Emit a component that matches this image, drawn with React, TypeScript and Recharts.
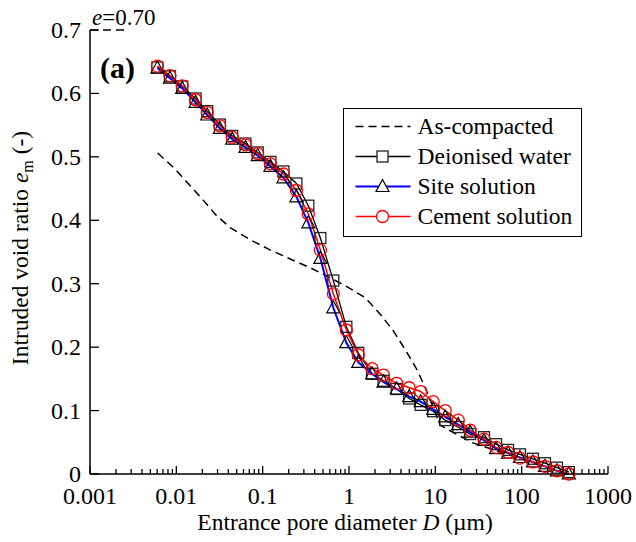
import { LineChart, Line, XAxis, YAxis, Legend } from 'recharts';

// entrance pore diameter D (µm) for the MIP series
const D_VALUES = [
  0.00603, 0.00843, 0.0117, 0.0167, 0.0228, 0.0319, 0.0444, 0.0632, 0.0877, 0.123,
  0.174, 0.246, 0.338, 0.466, 0.658, 0.931, 1.28, 1.85, 2.51, 3.57,
  4.98, 6.76, 9.43, 13.0, 18.4, 25.3, 36.6, 50.5, 69.5, 95.5,
  135, 186, 256, 352,
];

const DEIONISED = [
  0.641, 0.627, 0.611, 0.592, 0.572, 0.551, 0.533, 0.521, 0.507, 0.492,
  0.477, 0.458, 0.423, 0.372, 0.305, 0.232, 0.191, 0.158, 0.147, 0.134,
  0.119, 0.109, 0.099, 0.085, 0.074, 0.063, 0.058, 0.047, 0.038, 0.031,
  0.024, 0.017, 0.010, 0.003,
];

const SITE = [
  0.640, 0.624, 0.608, 0.586, 0.566, 0.545, 0.528, 0.515, 0.502, 0.485,
  0.467, 0.437, 0.396, 0.340, 0.262, 0.207, 0.176, 0.158, 0.145, 0.134,
  0.122, 0.114, 0.102, 0.090, 0.078, 0.066, 0.053, 0.040, 0.033, 0.026,
  0.019, 0.012, 0.005, 0.0,
];

const CEMENT = [
  0.643, 0.628, 0.612, 0.590, 0.570, 0.549, 0.531, 0.519, 0.505, 0.489,
  0.473, 0.447, 0.410, 0.353, 0.284, 0.227, 0.188, 0.166, 0.156, 0.143,
  0.136, 0.130, 0.114, 0.100, 0.085, 0.069, 0.055, 0.042, 0.034, 0.025,
  0.019, 0.012, 0.005, 0.0,
];

// as-compacted curve (dashed, no markers)
const AS_D = [
  0.00608, 0.00931, 0.0146, 0.0207, 0.0284, 0.0425, 0.0722, 0.123, 0.209, 0.357,
  0.577, 0.955, 1.54, 2.30, 3.25, 4.48, 6.16, 7.62, 9.18, 11.4,
  17.9, 27.4, 56.1, 125, 343,
];
const AS_E = [
  0.506, 0.483, 0.454, 0.431, 0.409, 0.388, 0.369, 0.353, 0.339, 0.325,
  0.311, 0.295, 0.278, 0.252, 0.226, 0.196, 0.164, 0.136, 0.109, 0.077,
  0.062, 0.049, 0.035, 0.019, 0.0,
];

// initial void ratio marker e = 0.70
const INIT_D = [0.001, 0.0028];
const INIT_E = [0.7, 0.7];

const X_MAJOR = [0.001, 0.01, 0.1, 1, 10, 100, 1000];
const X_LABELS = ['0.001', '0.01', '0.1', '1', '10', '100', '1000'];
const X_MINOR_MULT = [2, 3, 4, 5, 6, 7, 8, 9];
const Y_TICKS = [0, 0.1, 0.2, 0.3, 0.4, 0.5, 0.6, 0.7];
const Y_LABELS = ['0', '0.1', '0.2', '0.3', '0.4', '0.5', '0.6', '0.7'];

const LEGEND_NAMES = ['As-compacted', 'Deionised water', 'Site solution', 'Cement solution'];

const SERIF = '"Liberation Serif", "Times New Roman", serif';
const TICK_FS = 24;
const FS = 23.5;

const rows = D_VALUES.map((D, i) => ({
  D,
  dw: DEIONISED[i],
  site: SITE[i],
  cem: CEMENT[i],
}));
const asRows = AS_D.map((D, i) => ({ D, e: AS_E[i] }));
const initRows = INIT_D.map((D, i) => ({ D, e: INIT_E[i] }));

const xTicks = [
  ...X_MAJOR,
  ...X_MAJOR.slice(0, -1).flatMap((m) => X_MINOR_MULT.map((k) => m * k)),
].sort((a, b) => a - b);

function XTick(props: any) {
  const { x, y, payload } = props;
  const idx = X_MAJOR.indexOf(payload.value);
  const major = idx >= 0;
  return (
    <g>
      <line x1={x} x2={x} y1={y} y2={y - (major ? 8 : 5)} stroke="#000" strokeWidth={1.3} />
      {major && (
        <text x={x} y={y + 30} textAnchor="middle" fontFamily={SERIF} fontSize={TICK_FS} fill="#000">
          {X_LABELS[idx]}
        </text>
      )}
    </g>
  );
}

function YTick(props: any) {
  const { x, y, payload } = props;
  const idx = Y_TICKS.indexOf(payload.value);
  return (
    <g>
      <line x1={x} x2={x + 9} y1={y} y2={y} stroke="#000" strokeWidth={1.3} />
      <text x={x - 9} y={y + 8} textAnchor="end" fontFamily={SERIF} fontSize={TICK_FS} fill="#000">
        {Y_LABELS[idx]}
      </text>
    </g>
  );
}

function YTitle() {
  return (
    <text
      transform="translate(28, 248) rotate(-90)"
      textAnchor="middle"
      fontFamily={SERIF}
      fontSize={FS}
      fill="#000"
    >
      Intruded void ratio <tspan fontStyle="italic">e</tspan>
      <tspan fontSize={16} dy={5}>m</tspan>
      <tspan dy={-5}> (-)</tspan>
    </text>
  );
}

function XTitle() {
  return (
    <text x={345} y={530} textAnchor="middle" fontFamily={SERIF} fontSize={FS} fill="#000">
      Entrance pore diameter <tspan fontStyle="italic">D</tspan> (µm)
    </text>
  );
}

function SquareDot(props: any) {
  const { cx, cy, index } = props;
  if (cx == null || cy == null) return null;
  return (
    <rect key={index} x={cx - 5.5} y={cy - 5.5} width={11} height={11} fill="none" stroke="#222" strokeWidth={1.3} />
  );
}

function TriDot(props: any) {
  const { cx, cy, index } = props;
  if (cx == null || cy == null) return null;
  return (
    <polygon
      key={index}
      points={`${cx},${cy - 7} ${cx - 6.5},${cy + 5} ${cx + 6.5},${cy + 5}`}
      fill="none"
      stroke="#000"
      strokeWidth={1.2}
    />
  );
}

function LegendBox() {
  const rowY = [17.5, 47.5, 77.5, 107.5];
  return (
    <div
      style={{
        width: 239,
        height: 129,
        boxSizing: 'border-box',
        border: '1.5px solid #000',
        background: '#fff',
      }}
    >
      <svg width={236} height={126} style={{ display: 'block' }}>
        <line x1={11.5} x2={66.5} y1={rowY[0]} y2={rowY[0]} stroke="#000" strokeWidth={1.5} strokeDasharray="8 5" />
        <line x1={11.5} x2={66.5} y1={rowY[1]} y2={rowY[1]} stroke="#000" strokeWidth={1.3} />
        <rect x={33} y={rowY[1] - 5.5} width={11} height={11} fill="#fff" stroke="#222" strokeWidth={1.3} />
        <line x1={11.5} x2={66.5} y1={rowY[2]} y2={rowY[2]} stroke="#0000ff" strokeWidth={2} />
        <polygon
          points={`38.5,${rowY[2] - 7} 32,${rowY[2] + 5} 45,${rowY[2] + 5}`}
          fill="#fff"
          stroke="#000"
          strokeWidth={1.2}
        />
        <line x1={11.5} x2={66.5} y1={rowY[3]} y2={rowY[3]} stroke="#ff0000" strokeWidth={1.5} />
        <circle cx={38.5} cy={rowY[3]} r={6} fill="#fff" stroke="#ff0000" strokeWidth={1.3} />
        {LEGEND_NAMES.map((n, i) => (
          <text key={n} x={73.5} y={rowY[i] + 7.5} fontFamily={SERIF} fontSize={FS} fill="#000">
            {n}
          </text>
        ))}
      </svg>
    </div>
  );
}

export default function App() {
  return (
    <div style={{ position: 'absolute', left: 0, top: 0, width: 636, height: 542, background: '#fff' }}>
      <LineChart width={636} height={542} data={rows} margin={{ top: 30, right: 28, bottom: 8, left: 30 }}>
        <XAxis
          dataKey="D"
          type="number"
          scale="log"
          domain={[0.001, 1000]}
          ticks={xTicks}
          interval={0}
          height={60}
          tickSize={0}
          tickMargin={0}
          tickLine={false}
          tick={<XTick />}
          axisLine={{ stroke: '#000', strokeWidth: 1.5 }}
          label={<XTitle />}
        />
        <YAxis
          type="number"
          domain={[0, 0.7]}
          ticks={Y_TICKS}
          interval={0}
          width={60}
          tickSize={0}
          tickMargin={0}
          tickLine={false}
          tick={<YTick />}
          axisLine={{ stroke: '#000', strokeWidth: 1.5 }}
          label={<YTitle />}
        />
        <Legend
          verticalAlign="middle"
          align="center"
          layout="horizontal"
          content={<LegendBox />}
          wrapperStyle={{ left: 343, top: 108, width: 239, height: 129 }}
        />
        <Line
          data={initRows}
          dataKey="e"
          stroke="#000"
          strokeWidth={1.5}
          strokeDasharray="8 5"
          dot={false}
          isAnimationActive={false}
          legendType="none"
        />
        <Line
          data={asRows}
          dataKey="e"
          stroke="#000"
          strokeWidth={1.5}
          strokeDasharray="8 5"
          dot={false}
          isAnimationActive={false}
        />
        <Line dataKey="dw" stroke="#000" strokeWidth={1.3} dot={<SquareDot />} isAnimationActive={false} />
        <Line dataKey="site" stroke="#0000ff" strokeWidth={2} dot={<TriDot />} isAnimationActive={false} />
        <Line
          dataKey="cem"
          stroke="#ff0000"
          strokeWidth={1.5}
          dot={{ r: 6, stroke: '#ff0000', strokeWidth: 1.3, fill: 'none' }}
          isAnimationActive={false}
        />
      </LineChart>
      <svg
        width={636}
        height={542}
        style={{ position: 'absolute', left: 0, top: 0, pointerEvents: 'none' }}
      >
        <text x={92} y={25} fontFamily={SERIF} fontSize={23} fill="#000">
          <tspan fontStyle="italic">e</tspan>=0.70
        </text>
        <text x={100} y={78} fontFamily={SERIF} fontSize={30} fontWeight="bold" fill="#000">
          (a)
        </text>
      </svg>
    </div>
  );
}
